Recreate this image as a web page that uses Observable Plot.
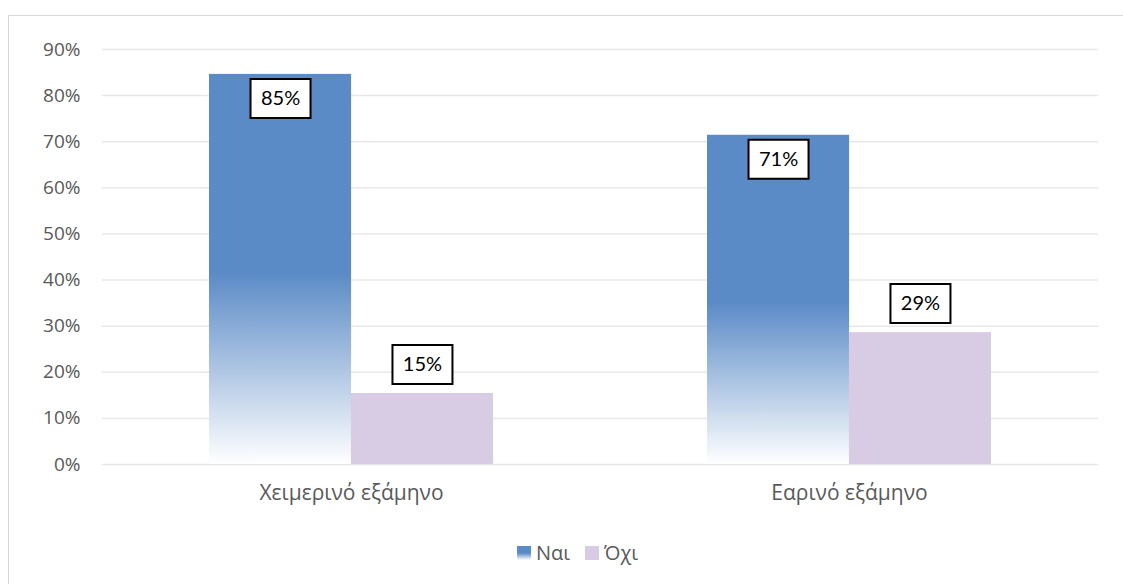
<!DOCTYPE html>
<html>
<head>
<meta charset="utf-8">
<script src="https://cdn.jsdelivr.net/npm/d3@7"></script>
<script src="https://cdn.jsdelivr.net/npm/@observablehq/plot@0.6"></script>
<style>
  html, body { margin: 0; padding: 0; background: #fff; }
  body { width: 1123px; height: 584px; overflow: hidden; position: relative; font-family: "Open Sans", sans-serif; }
  #frame { position: absolute; left: 8px; top: 15px; width: 1300px; height: 800px; border: 1.5px solid #d9d9d9; box-sizing: border-box; }
  #chart { position: absolute; left: 0; top: 0; }
  #legend { position: absolute; left: 517px; top: 539px; display: flex; align-items: center; font-size: 20px; color: #595959; }
  .item { display: flex; align-items: center; margin-right: 15px; }
  .sw { width: 14px; height: 14px; margin-right: 5px; }
</style>
</head>
<body>
<div id="frame"></div>
<div id="chart"></div>
<div id="legend"></div>
<script>
// ---- Data ----
const semesters = ["Χειμερινό εξάμηνο", "Εαρινό εξάμηνο"];
const seriesNames = ["Ναι", "Όχι"];
const yesValues = [84.6, 71.4];
const noValues = [15.4, 28.6];
const yTicks = [0, 10, 20, 30, 40, 50, 60, 70, 80, 90];

const yesColor = "#5B8BC6";
const noColor = "#D8CCE4";

const yesRows = semesters.map((s, i) => ({semester: s, series: seriesNames[0], value: yesValues[i]}));
const noRows = semesters.map((s, i) => ({semester: s, series: seriesNames[1], value: noValues[i]}));

// ---- Layout ----
const W = 1123, H = 520;
const mL = 102, mR = 25, mT = 49, mB = H - 464;
const padIn = 0.43, padOut = 0.215;
const step = (W - mL - mR) / (semesters.length - padIn + 2 * padOut);
const bw = step * (1 - padIn);
const half = bw / 2;

const boxSymbol = { draw(ctx) { ctx.rect(-30, -19.5, 60, 39); } };
const fmt = d => Math.round(d.value) + "%";

const chart = Plot.plot({
  width: W, height: H,
  marginLeft: mL, marginRight: mR, marginTop: mT, marginBottom: mB,
  style: { fontSize: "19px", fontFamily: "'Open Sans', sans-serif", color: "#595959", background: "transparent" },
  x: { type: "band", domain: semesters, paddingInner: padIn, paddingOuter: padOut, tickSize: 0, tickPadding: 21, label: null },
  y: { domain: [0, 90], ticks: yTicks, tickFormat: d => d + "%", tickSize: 0, tickPadding: 22, label: null },
  marks: [
    Plot.ruleY(yTicks, { stroke: "#e8e8e8", strokeWidth: 1.5 }),
    Plot.barY(yesRows, { x: "semester", y: "value", fill: "url(#yesGrad)", insetRight: half }),
    Plot.barY(noRows, { x: "semester", y: "value", fill: noColor, insetLeft: half }),
    Plot.dot(yesRows, { x: "semester", y: "value", dx: -half / 2, dy: 24, symbol: boxSymbol, fill: "white", stroke: "black", strokeWidth: 2 }),
    Plot.text(yesRows, { x: "semester", y: "value", dx: -half / 2, dy: 24, text: fmt, fill: "black", fontSize: 20, fontWeight: "normal", fontFamily: "Lato, sans-serif" }),
    Plot.dot(noRows, { x: "semester", y: "value", dx: half / 2, dy: -29, symbol: boxSymbol, fill: "white", stroke: "black", strokeWidth: 2 }),
    Plot.text(noRows, { x: "semester", y: "value", dx: half / 2, dy: -29, text: fmt, fill: "black", fontSize: 20, fontWeight: "normal", fontFamily: "Lato, sans-serif" })
  ]
});

const svg = d3.select(chart.tagName.toLowerCase() === "svg" ? chart : chart.querySelector("svg"));
// larger font for the category axis labels
svg.selectAll("[aria-label='x-axis tick label'] text, g[aria-label='x-axis'] text").style("font-size", "21px");
// gradient definition for the "Ναι" bars
const defs = svg.insert("defs", ":first-child");
const g = defs.append("linearGradient").attr("id", "yesGrad").attr("x1", 0).attr("y1", 0).attr("x2", 0).attr("y2", 1);
g.append("stop").attr("offset", "0%").attr("stop-color", yesColor);
g.append("stop").attr("offset", "51%").attr("stop-color", yesColor);
g.append("stop").attr("offset", "100%").attr("stop-color", "#ffffff");

document.getElementById("chart").appendChild(chart);

// legend
const legend = document.getElementById("legend");
const swatches = [
  "linear-gradient(to bottom, " + yesColor + " 0%, " + yesColor + " 50%, #ffffff 100%)",
  noColor
];
seriesNames.forEach((name, i) => {
  const item = document.createElement("div");
  item.className = "item";
  const sw = document.createElement("div");
  sw.className = "sw";
  sw.style.background = swatches[i];
  const label = document.createElement("span");
  label.textContent = name;
  item.appendChild(sw);
  item.appendChild(label);
  legend.appendChild(item);
});
</script>
</body>
</html>
